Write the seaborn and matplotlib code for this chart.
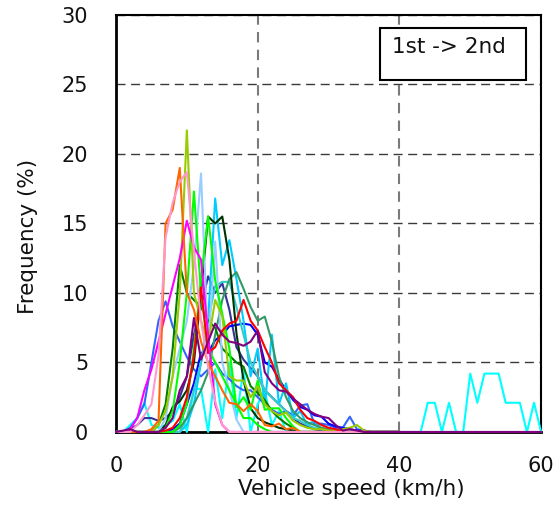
import matplotlib
matplotlib.use("Agg")
import matplotlib.pyplot as plt
from matplotlib.patches import Rectangle
import seaborn as sns
import pandas as pd

# ---------------- data (frequency % at each integer vehicle speed, km/h) ----------------
speed_40 = list(range(0, 41))
speed_60 = list(range(0, 61))

cyan = [0, 0, 0.5, 1, 2.1, 0.5, 0.3, 0.5, 0.8, 2,
        0, 3.1, 3.1, 0, 4.5, 1, 5, 1, 4.5, 0,
        2, 3, 0.5, 1.5, 0, 0, 0, 0, 0, 0,
        0, 0, 0, 0, 0, 0, 0, 0, 0, 0,
        0, 0, 0, 0, 2.1, 2.1, 0, 2.1, 0, 0,
        4.2, 2.1, 4.2, 4.2, 4.2, 2.1, 2.1, 2.1, 0, 2.1,
        0]
royalblue = [0, 0, 0.3, 1, 2, 5, 8, 9.4, 7.6, 6.5,
             5.4, 4.5, 4, 4.5, 5, 4.2, 3.8, 3.3, 3, 3,
             2.5, 2, 1.6, 1.3, 1.5, 1.2, 1.9, 2, 0.6, 0.6,
             0.5, 0.3, 0.3, 1.1, 0.2, 0.1, 0, 0, 0, 0,
             0]
slateblue = [0, 0, 0.2, 0.5, 1, 1, 0.8, 1, 1.5, 2.5,
             4, 7, 9, 11.2, 10, 10.7, 8.8, 6.1, 5.2, 4.6,
             4, 3, 2.5, 2, 1.5, 1, 0.6, 0.4, 0.2, 0.1,
             0, 0, 0, 0, 0, 0, 0, 0, 0, 0,
             0]
blue = [0, 0, 0, 0, 0, 0, 0, 0, 0.2, 0.6,
        2, 3.5, 5.7, 5.7, 6.6, 7, 7.6, 7.7, 7.8, 7.7,
        7, 5, 4.7, 3.8, 3, 2.3, 1.8, 1.6, 1.2, 1.1,
        0.6, 0.4, 0.3, 0.2, 0.1, 0.1, 0, 0, 0, 0,
        0]
deepskyblue = [0, 0, 0, 0, 0, 0, 0, 0, 0, 0,
               0.5, 2, 5, 8, 16.8, 12, 13.8, 11, 8, 4,
               6, 2, 7, 2, 3.5, 1, 1.5, 0.5, 0.8, 0.2,
               0, 0, 0, 0, 0, 0, 0, 0, 0, 0,
               0]
turquoise = [0, 0, 0, 0, 0, 0, 0, 0, 0, 0,
             1, 3, 5, 8, 10.5, 10.8, 10.8, 9, 7, 5,
             4, 3, 2.5, 2, 1.5, 1, 0.8, 0.5, 0.3, 0.2,
             0, 0, 0, 0, 0, 0, 0, 0, 0, 0,
             0]
seagreen = [0, 0, 0, 0, 0, 0, 0, 0, 0, 0.3,
            1, 2, 3, 4.3, 7, 9.5, 11, 11.5, 10.3, 9,
            8, 8.3, 6.5, 4, 2.5, 1.5, 1, 0.7, 0.5, 0.3,
            0.2, 0, 0, 0, 0, 0, 0, 0, 0, 0,
            0]
green = [0, 0, 0, 0, 0, 0, 0.5, 2, 6, 12,
         10, 9.5, 9, 8, 7.5, 6, 5.5, 5, 4.7, 3.3,
         2.8, 2.3, 1.5, 1, 0.6, 0.3, 0, 0, 0, 0,
         0, 0, 0, 0, 0, 0, 0, 0, 0, 0,
         0]
darkgreen = [0, 0, 0, 0, 0, 0, 0, 0.5, 1.8, 2.2,
             3, 5, 10, 15.5, 15, 15.5, 12.4, 7.1, 3.7, 1.7,
             1, 0.7, 0.5, 0.3, 0.2, 0.1, 0, 0, 0, 0,
             0, 0, 0, 0, 0, 0, 0, 0, 0, 0,
             0]
lightblue = [0, 0, 0, 0, 0, 0, 0, 1, 4, 6,
             8, 12, 18.6, 6, 13.7, 5, 3, 0.9, 0, 0,
             0, 0, 0, 0, 0, 0, 0, 0, 0, 0,
             0, 0, 0, 0, 0, 0, 0, 0, 0, 0,
             0]
lime_b = [0, 0, 0, 0, 0, 0, 0, 0, 0, 0.5,
          2, 6, 11, 15.5, 10.9, 8.5, 6, 1.8, 2.5, 1.6,
          3.7, 1.6, 1.7, 1.7, 1, 0.4, 0, 0, 0, 0,
          0, 0, 0, 0, 0, 0, 0, 0, 0, 0,
          0]
lime_a = [0, 0, 0, 0, 0, 0, 0, 0.3, 1.5, 5,
          10, 17.3, 10, 6, 5, 4, 3, 2, 1, 1,
          0.5, 0.2, 0, 0, 0, 0, 0, 0, 0, 0,
          0, 0, 0, 0, 0, 0, 0, 0, 0, 0,
          0]
yellowgreen = [0, 0, 0, 0, 0, 0, 0.5, 1.5, 4, 10,
               21.7, 10, 8, 6.4, 9.5, 8.3, 4, 3.7, 3.7, 2.5,
               3.3, 2, 1.5, 1.2, 1.4, 0.8, 0.5, 0.3, 0.2, 0.2,
               0.1, 0.1, 0.2, 0.3, 0.5, 0.1, 0, 0, 0, 0,
               0]
red = [0, 0, 0, 0, 0, 0, 0, 0.1, 0.3, 1,
       2.5, 5.5, 10.4, 5.7, 6.1, 7.3, 7.8, 8, 9.5, 8,
       7.3, 6.1, 5, 3.5, 3, 2.5, 1.6, 1, 0.8, 0.5,
       0.3, 0.2, 0, 0, 0, 0, 0, 0, 0, 0,
       0]
magenta = [0, 0, 0.2, 1, 3, 4.5, 6.5, 8.5, 10.5, 12.5,
           15.2, 13.3, 12.4, 7, 2, 0.5, 0, 0, 0, 0,
           0, 0, 0, 0, 0, 0, 0, 0, 0, 0,
           0, 0, 0, 0, 0, 0, 0, 0, 0, 0,
           0]
orange = [0, 0, 0, 0, 0, 0.2, 0.8, 15, 16, 19,
          10, 8.8, 6.5, 5, 4, 3, 2.1, 2, 1.5, 2,
          1.5, 0.5, 0.4, 0.6, 0.2, 0.3, 0, 0, 0, 0,
          0, 0, 0, 0, 0, 0, 0, 0, 0, 0,
          0]
pink = [0, 0, 0, 0.5, 1.2, 2, 5.5, 14, 16.5, 18,
        18.7, 13, 8, 4.7, 2.2, 0.5, 0, 0, 0, 0,
        0, 0, 0, 0, 0, 0, 0, 0, 0, 0,
        0, 0, 0, 0, 0, 0, 0, 0, 0, 0,
        0]
purple = [0, 0.1, 0.2, 0, 0, 0, 0, 0.3, 1, 3,
          4, 8.2, 5.2, 6.5, 7.8, 7, 6.5, 6.4, 6.2, 6.5,
          7.3, 4.3, 3.5, 3, 2.9, 2.4, 2, 1.6, 1.3, 1.1,
          1, 0.5, 0.1, 0.2, 0.1, 0, 0, 0, 0, 0,
          0, 0, 0, 0, 0, 0, 0, 0, 0, 0,
          0, 0, 0, 0, 0, 0, 0, 0, 0, 0,
          0]

series = [
    ("cyan", cyan, "#00FFFF"),
    ("royalblue", royalblue, "#3366FF"),
    ("slateblue", slateblue, "#333399"),
    ("blue", blue, "#0000FF"),
    ("deepskyblue", deepskyblue, "#00CCFF"),
    ("turquoise", turquoise, "#33CCCC"),
    ("seagreen", seagreen, "#339966"),
    ("green", green, "#008000"),
    ("darkgreen", darkgreen, "#003300"),
    ("lightblue", lightblue, "#99CCFF"),
    ("lime_b", lime_b, "#00FF00"),
    ("lime_a", lime_a, "#00FF00"),
    ("yellowgreen", yellowgreen, "#99CC00"),
    ("red", red, "#FF0000"),
    ("magenta", magenta, "#FF00FF"),
    ("orange", orange, "#FF6600"),
    ("pink", pink, "#FF99CC"),
    ("purple", purple, "#800080"),
]

x_ticks = [0, 20, 40, 60]
y_ticks = [0, 5, 10, 15, 20, 25, 30]
x_label = "Vehicle speed (km/h)"
y_label = "Frequency (%)"
box_text = "1st -> 2nd"

# ---------------- build long table ----------------
rows = []
for name, vals, _ in series:
    xs = speed_60 if len(vals) == 61 else speed_40
    for s, v in zip(xs, vals):
        rows.append({"speed": s, "freq": v, "series": name})
df = pd.DataFrame(rows)
palette = {name: col for name, _, col in series}
order = [name for name, _, _ in series]

# ---------------- plot ----------------
sns.set_style("white")
plt.rcParams["font.family"] = ["DejaVu Sans"]

fig, ax = plt.subplots(figsize=(5.55, 5.07), dpi=100)
fig.subplots_adjust(left=0.209, right=0.975, top=0.9704, bottom=0.148)

sns.lineplot(data=df, x="speed", y="freq", hue="series", hue_order=order,
             palette=palette, estimator=None, sort=False, legend=False,
             linewidth=1.5, ax=ax)
for ln in ax.get_lines():
    ln.set_zorder(3)
    ln.set_clip_on(False)

ax.set_xlim(0, 60)
ax.set_ylim(0, 30)
ax.set_xticks(x_ticks)
ax.set_yticks(y_ticks)
ax.tick_params(axis="both", direction="in", length=4, width=1, color="black",
               labelsize=15, labelcolor="#111111")
ax.tick_params(axis="x", pad=17)
ax.tick_params(axis="y", pad=20)

ax.set_axisbelow(True)
ax.xaxis.grid(True, color="#7a7a7a", linestyle=(0, (5, 3.5)), linewidth=1.5)
ax.yaxis.grid(True, color="#3a3a3a", linestyle=(0, (6.5, 4)), linewidth=1.0)

for side, lw in (("left", 2.0), ("bottom", 2.0), ("top", 1.5), ("right", 1.5)):
    ax.spines[side].set_visible(True)
    ax.spines[side].set_color("black")
    ax.spines[side].set_linewidth(lw)

ax.set_xlabel(x_label, fontsize=15.5, color="#111111")
ax.set_ylabel(y_label, fontsize=15.5, color="#111111")
ax.xaxis.set_label_coords(0.553, -0.112)
ax.yaxis.set_label_coords(-0.184, 0.47)

ax.add_patch(Rectangle((0.621, 0.844), 0.344, 0.125, transform=ax.transAxes,
                       facecolor="white", edgecolor="black", linewidth=1.5,
                       zorder=4))
ax.text(0.784, 0.908, box_text, transform=ax.transAxes, ha="center",
        va="baseline", fontsize=15.5, color="#111111", zorder=5)

fig.savefig("out.png", dpi=100)
